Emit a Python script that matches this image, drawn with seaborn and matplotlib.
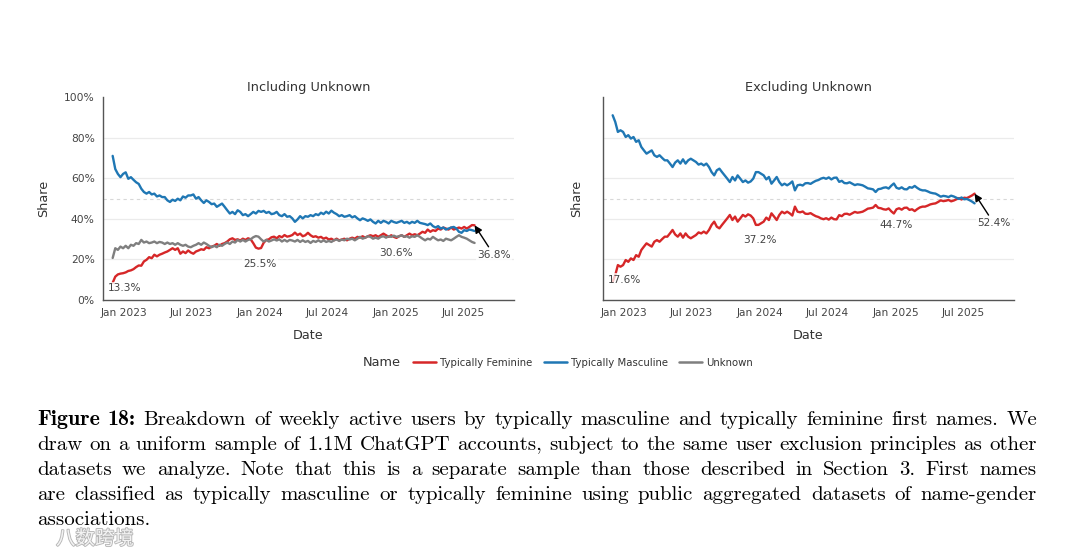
import matplotlib
matplotlib.use("Agg")
import matplotlib.pyplot as plt
import matplotlib.dates as mdates
import matplotlib.patheffects as pe
from matplotlib.lines import Line2D
from matplotlib.ticker import FuncFormatter
import pandas as pd
import seaborn as sns

# weekly series, first week starting 2022-12-01
start = "2022-12-01"

incl_feminine = [
    8.5, 11.5, 12.6, 13.0, 13.2,
    13.6, 14.3, 14.6, 15.2, 16.2, 17.0, 16.9, 19.0,
    19.8, 21.1, 20.6, 22.3, 21.5, 22.3, 22.8, 23.4, 23.9,
    24.7, 25.5, 24.7, 25.5, 22.8, 23.9, 23.1, 24.4, 23.4,
    22.8, 23.9, 24.4, 25.0, 24.7, 26.0, 25.5, 26.3, 26.7,
    27.6, 26.7, 27.6, 28.0, 28.8, 29.9, 30.4, 29.6,
    29.9, 29.3, 30.2, 29.6, 30.4, 29.9, 28.0, 25.8, 25.3,
    25.6, 28.2, 29.6, 29.9, 30.9, 31.2, 30.4, 31.5, 30.9,
    32.0, 31.2, 31.5, 32.0, 33.2, 32.0, 32.7, 31.4,
    31.9, 33.1, 31.9, 31.1, 31.4, 30.7, 31.1, 30.2, 30.7,
    29.8, 30.2, 29.4, 30.2, 29.4, 29.8, 30.2, 29.4, 30.2,
    30.7, 30.2, 31.1, 30.7, 31.4, 30.7, 31.4, 31.9, 31.4,
    31.9, 31.1, 31.9, 32.7, 31.9, 31.1, 31.9, 31.1,
    30.6, 31.4, 31.9, 31.1, 31.9, 32.7, 31.9, 32.4, 31.9,
    32.7, 33.6, 33.1, 34.7, 33.6, 34.4, 34.0, 35.2,
    34.7, 35.7, 35.2, 34.7, 35.7, 34.7, 35.2, 35.7, 35.2,
    36.0, 35.2, 36.0, 36.9, 36.8,
]
incl_masculine = [
    71.0, 64.5, 62.1, 60.5, 62.1,
    62.9, 59.7, 60.5, 59.2, 58.0, 57.2, 54.8, 53.2,
    52.4, 53.2, 52.0, 52.4, 51.0, 51.5, 50.7, 50.7, 49.1,
    48.3, 49.4, 48.8, 49.9, 49.1, 51.0, 50.4, 51.5, 51.5,
    52.0, 49.9, 50.7, 49.1, 47.8, 49.1, 48.3, 47.2, 47.5,
    45.9, 46.7, 47.5, 45.9, 44.2, 42.6, 43.4, 42.3,
    44.2, 43.4, 41.8, 42.3, 41.3, 42.3, 43.4, 42.6, 43.9,
    43.4, 43.9, 42.9, 43.4, 42.3, 42.6, 43.4, 41.8, 41.3,
    42.3, 41.0, 41.3, 40.2, 38.5, 39.7, 41.3, 40.2,
    41.3, 41.0, 41.8, 41.3, 42.3, 41.8, 43.0, 42.3, 43.5,
    42.6, 44.0, 43.0, 42.3, 41.3, 41.8, 41.0, 41.3, 41.8,
    40.7, 41.3, 40.2, 39.3, 40.2, 39.7, 39.0, 39.7, 38.5,
    37.7, 39.0, 38.0, 39.0, 38.5, 37.7, 39.0, 38.4,
    38.0, 38.5, 39.0, 38.0, 38.5, 37.7, 38.5, 38.0, 39.0,
    38.0, 37.7, 37.4, 36.9, 37.7, 36.4, 35.7, 36.4,
    35.2, 35.7, 34.7, 35.2, 35.7, 36.0, 35.2, 33.6, 33.1,
    34.4, 34.0, 34.7, 34.4, 34.0,
]
incl_unknown = [
    20.7, 25.5, 24.7, 26.3, 25.5,
    26.7, 25.5, 27.2, 26.7, 28.0, 27.6, 29.6, 28.3,
    28.8, 28.0, 28.3, 28.8, 28.0, 28.6, 28.3, 27.6, 28.3,
    27.6, 28.0, 27.2, 28.0, 27.2, 26.7, 27.2, 26.3, 26.0,
    26.7, 27.2, 28.0, 27.2, 28.3, 27.6, 26.7, 26.0, 26.7,
    26.0, 27.2, 26.7, 27.6, 28.3, 27.6, 28.8, 28.3,
    29.6, 28.8, 29.6, 28.8, 29.6, 29.9, 30.9, 31.5, 31.2,
    29.9, 28.8, 29.6, 28.8, 29.3, 29.9, 29.3, 29.9, 28.8,
    29.6, 28.8, 29.6, 29.3, 28.8, 29.6, 28.6, 29.4,
    28.6, 29.1, 28.1, 29.1, 28.6, 29.4, 28.6, 29.4, 28.6,
    29.1, 28.6, 29.4, 29.8, 29.1, 29.8, 29.4, 30.2, 29.8,
    30.2, 29.4, 30.2, 31.1, 30.2, 30.7, 31.4, 31.1, 30.2,
    30.7, 30.2, 31.1, 31.4, 30.7, 31.4, 31.1, 31.7,
    31.1, 31.4, 31.9, 31.1, 31.4, 30.7, 31.4, 31.1, 31.9,
    31.1, 30.2, 29.4, 30.2, 29.8, 31.1, 30.2, 29.4,
    29.8, 29.1, 30.2, 29.8, 29.4, 30.2, 31.1, 31.9, 31.1,
    30.7, 30.2, 29.4, 28.6, 28.1,
]
excl_feminine = [
    9.0, 12.3, 17.2, 16.4, 17.2,
    19.7, 18.8, 20.5, 19.7, 22.1, 21.3, 24.6, 26.3,
    27.9, 27.1, 26.3, 28.7, 29.5, 28.7, 30.0, 31.2, 31.2,
    32.8, 34.5, 32.3, 31.2, 32.8, 30.7, 32.8, 31.2, 30.4,
    31.2, 32.0, 33.3, 32.8, 33.7, 32.8, 34.5, 37.0, 38.6,
    36.1, 35.3, 37.0, 38.6, 40.2, 41.9, 39.4, 41.1,
    38.6, 40.2, 41.9, 41.1, 42.2, 41.6, 40.2, 37.0, 37.0,
    37.8, 38.6, 40.6, 39.4, 42.7, 41.1, 39.4, 41.9, 43.5,
    42.7, 43.5, 42.7, 41.6, 46.0, 43.5, 43.2, 43.6,
    42.5, 42.4, 42.8, 42.0, 41.3, 40.9, 40.2, 39.8, 40.3,
    39.6, 40.6, 39.8, 39.7, 41.8, 41.3, 42.4, 42.5, 42.0,
    42.7, 43.4, 43.0, 43.2, 43.5, 44.2, 45.0, 45.2, 45.5,
    46.8, 45.4, 45.2, 44.7, 44.5, 45.1, 43.7, 42.6,
    44.7, 45.2, 44.5, 45.4, 45.5, 44.4, 44.7, 43.8, 44.8,
    45.6, 46.0, 46.0, 46.5, 47.1, 47.4, 47.6, 48.3,
    49.1, 48.7, 48.9, 49.3, 48.6, 49.0, 49.6, 50.2, 49.5,
    50.4, 50.2, 50.8, 51.5, 52.4,
]
excl_masculine = [
    91.0, 87.7, 82.8, 83.6, 82.8,
    80.3, 81.2, 79.5, 80.3, 77.9, 78.7, 75.4, 73.7,
    72.1, 72.9, 73.7, 71.3, 70.5, 71.3, 70.0, 68.8, 68.8,
    67.2, 65.5, 67.7, 68.8, 67.2, 69.3, 67.2, 68.8, 69.6,
    68.8, 68.0, 66.7, 67.2, 66.3, 67.2, 65.5, 63.0, 61.4,
    63.9, 64.7, 63.0, 61.4, 59.8, 58.1, 60.6, 58.9,
    61.4, 59.8, 58.1, 58.9, 57.8, 58.4, 59.8, 63.0, 63.0,
    62.2, 61.4, 59.4, 60.6, 57.3, 58.9, 60.6, 58.1, 56.5,
    57.3, 56.5, 57.3, 58.4, 54.0, 56.5, 56.8, 56.4,
    57.5, 57.6, 57.2, 58.0, 58.7, 59.1, 59.8, 60.2, 59.7,
    60.4, 59.4, 60.2, 60.3, 58.2, 58.7, 57.6, 57.5, 58.0,
    57.3, 56.6, 57.0, 56.8, 56.5, 55.8, 55.0, 54.8, 54.5,
    53.2, 54.6, 54.8, 55.3, 55.5, 54.9, 56.3, 57.4,
    55.3, 54.8, 55.5, 54.6, 54.5, 55.6, 55.3, 56.2, 55.2,
    54.4, 54.0, 54.0, 53.5, 52.9, 52.6, 52.4, 51.7,
    50.9, 51.3, 51.1, 50.7, 51.4, 51.0, 50.4, 49.8, 50.5,
    49.6, 49.8, 49.2, 48.5, 47.6,
]

label_dates = ["2023-01-01", "2024-01-01", "2025-01-01"]
incl_labels = [13.3, 25.5, 30.6]
incl_last = 36.8
excl_labels = [17.6, 37.2, 44.7]
excl_last = 52.4

names = ["Typically Feminine", "Typically Masculine", "Unknown"]
palette = {"Typically Feminine": "#d62728", "Typically Masculine": "#1f77b4", "Unknown": "#7f7f7f"}

caption = [
    "Figure 18: Breakdown of weekly active users by typically masculine and typically feminine first names. We",
    "draw on a uniform sample of 1.1M ChatGPT accounts, subject to the same user exclusion principles as other",
    "datasets we analyze. Note that this is a separate sample than those described in Section 3. First names",
    "are classified as typically masculine or typically feminine using public aggregated datasets of name-gender",
    "associations.",
]


def to_long(series):
    frames = []
    for name, vals in series.items():
        frames.append(pd.DataFrame({
            "date": pd.date_range(start, periods=len(vals), freq="7D"),
            "share": vals,
            "Name": name,
        }))
    return pd.concat(frames, ignore_index=True)


df_incl = to_long({"Typically Feminine": incl_feminine,
                   "Typically Masculine": incl_masculine,
                   "Unknown": incl_unknown})
df_excl = to_long({"Typically Feminine": excl_feminine,
                   "Typically Masculine": excl_masculine})

sns.set_style("white")
plt.rcParams["font.family"] = ["DejaVu Sans"]

fig = plt.figure(figsize=(10.8, 5.53), dpi=100)
W, H = 1080, 553
ax1 = fig.add_axes([103 / W, 1 - 300 / H, 411 / W, 203 / H])
ax2 = fig.add_axes([603 / W, 1 - 300 / H, 411 / W, 203 / H])

txt = "#444444"


def style_axis(ax, df, title, labels, last, ylab_x):
    sns.lineplot(data=df, x="date", y="share", hue="Name", hue_order=[n for n in names if n in set(df["Name"])],
                 palette=palette, linewidth=1.7, estimator=None, legend=False, ax=ax, zorder=3)
    for v in [20, 40, 60, 80]:
        ax.axhline(v, color="#ebebeb", lw=0.9, zorder=0)
    ax.axhline(50, color="#d8d8d8", lw=0.8, ls=(0, (3, 3)), zorder=0)
    ax.set_ylim(0, 100)
    ax.set_xlim(pd.Timestamp("2022-11-05"), pd.Timestamp("2025-11-14"))
    ax.set_yticks([0, 20, 40, 60, 80, 100])
    ax.yaxis.set_major_formatter(FuncFormatter(lambda v, p: f"{v:.0f}%"))
    ax.xaxis.set_major_locator(mdates.MonthLocator(bymonth=[1, 7]))
    ax.xaxis.set_major_formatter(mdates.DateFormatter("%b %Y"))
    for s in ["top", "right"]:
        ax.spines[s].set_visible(False)
    for s in ["left", "bottom"]:
        ax.spines[s].set_color("#555555")
        ax.spines[s].set_linewidth(1.0)
    ax.tick_params(direction="out", length=4, width=0.9, color="#555555",
                   labelsize=7.7, labelcolor=txt, pad=2)
    ax.set_title(title, fontsize=9.3, color="#333333", pad=4)
    ax.set_xlabel("Date", fontsize=9.2, color="#333333")
    ax.set_ylabel("Share", fontsize=9.2, color="#333333")
    ax.xaxis.set_label_coords(0.5, -0.177)
    ax.xaxis.label.set_va("center")
    ax.yaxis.set_label_coords(ylab_x, 0.5)
    ax.yaxis.label.set_va("center")

    box = dict(boxstyle="square,pad=0.1", fc="white", ec="none", alpha=0.75)
    for d, v in zip(label_dates, labels):
        ax.annotate(f"{v}%", xy=(pd.Timestamp(d), v), xytext=(0, -11), textcoords="offset points",
                    ha="center", va="center", fontsize=7.6, color=txt, bbox=box, zorder=5)
    end = df["date"].max()
    ax.annotate(f"{last}%", xy=(end, last), xytext=(14, -21.5), textcoords="offset points",
                ha="center", va="center", fontsize=7.6, color=txt, bbox=box, zorder=5,
                arrowprops=dict(arrowstyle="-|>", color="black", lw=1.0, mutation_scale=11, shrinkB=0))


style_axis(ax1, df_incl, "Including Unknown", incl_labels, incl_last, -0.144)
style_axis(ax2, df_excl, "Excluding Unknown", excl_labels, excl_last, -0.064)
ax2.tick_params(labelleft=False)

# legend
handles = [Line2D([0], [0], color=palette[n], lw=1.8) for n in names]
fig.text(382 / W, 1 - 363 / H, "Name", ha="center", va="center", fontsize=9.3, color="#333333")
fig.legend(handles, names, loc="center", bbox_to_anchor=(583 / W, 1 - 363 / H), ncol=3, frameon=False,
           fontsize=7.3, handlelength=2.3, handletextpad=0.4, columnspacing=1.1, labelcolor="#333333")

# caption, justified word by word
renderer = fig.canvas.get_renderer()
left, right = 37, 1037
size = 15.0
for row, line in enumerate(caption):
    y = 1 - (425 + 25 * row) / H
    items = []
    for k, w in enumerate(line.split()):
        bold = row == 0 and k < 2
        t = fig.text(0, y, w, fontsize=size + (0.8 if bold else 0), family="cmb10" if bold else "cmr10",
                     va="baseline", ha="left", color="black")
        items.append((t, t.get_window_extent(renderer=renderer).width))
    total = sum(w for _, w in items)
    if row < len(caption) - 1:
        gap = (right - left - total) / (len(items) - 1)
    else:
        gap = 0.33 * size * 100 / 72
    x = left
    for t, w in items:
        t.set_x(x / W)
        x += w + gap

fig.text(95 / W, 1 - 539 / H, "八数跨境", family=["Noto Sans CJK SC"], fontsize=14, color="white",
         ha="center", va="center", alpha=0.85,
         path_effects=[pe.withStroke(linewidth=1.3, foreground="#aaaaaa")])

fig.savefig("out.png", dpi=100)
